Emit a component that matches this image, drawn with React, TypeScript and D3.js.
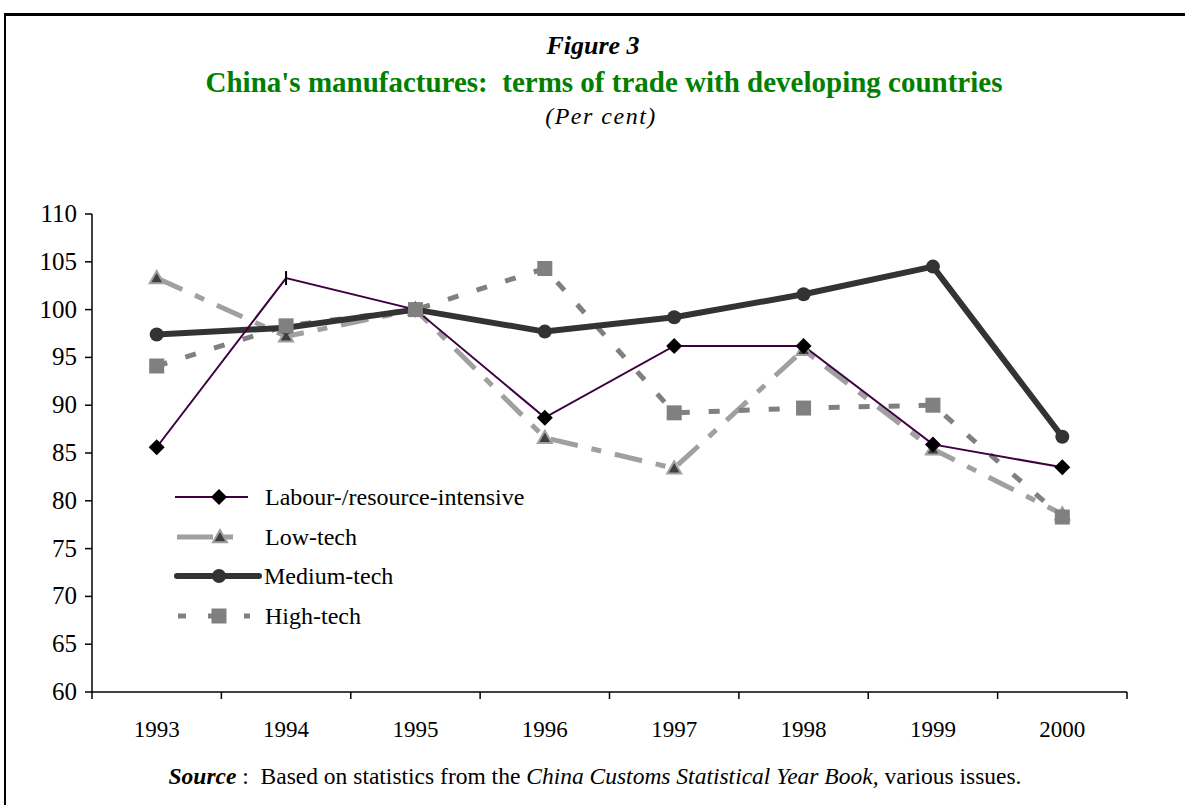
import React from "react";
import * as d3 from "d3";

const years = ["1993", "1994", "1995", "1996", "1997", "1998", "1999", "2000"];
const labour = [85.6, 103.3, 100.0, 88.7, 96.2, 96.2, 85.9, 83.5];
const lowTech = [103.3, 97.2, 100.0, 86.6, 83.4, 95.8, 85.4, 78.6];
const mediumTech = [97.4, 98.1, 100.0, 97.7, 99.2, 101.6, 104.5, 86.7];
const highTech = [94.1, 98.3, 100.0, 104.3, 89.2, 89.7, 90.0, 78.3];
const yTicks = [60, 65, 70, 75, 80, 85, 90, 95, 100, 105, 110];
const legendLabels = ["Labour-/resource-intensive", "Low-tech", "Medium-tech", "High-tech"];

const W = 1185;
const H = 805;
const font = "'Liberation Serif', 'Times New Roman', serif";

export default function App() {
  const x = d3.scaleBand<string>().domain(years).range([92, 1127]);
  const y = d3.scaleLinear().domain([60, 110]).range([692, 214]);
  const cx = (i: number) => (x(years[i]) as number) + x.bandwidth() / 2;
  const line = d3
    .line<number>()
    .x((_, i) => cx(i))
    .y((d) => y(d));

  const diamond = (px: number, py: number, s: number) =>
    `M${px},${py - s}L${px + s},${py}L${px},${py + s}L${px - s},${py}Z`;
  const tri = (px: number, py: number, s: number) =>
    `M${px},${py - s}L${px + s},${py + s * 0.75}L${px - s},${py + s * 0.75}Z`;

  const boundaries = [...years.map((yr) => x(yr) as number), 1127];

  const legY = [497, 537, 576, 616];
  const pre = { whiteSpace: "pre" as const };

  return (
    <svg
      width={W}
      height={H}
      style={{ position: "fixed", left: 0, top: 0, background: "#fff" }}
      fontFamily={font}
    >
      <rect x={0} y={0} width={W} height={H} fill="#fff" />
      {/* frame */}
      <line x1={4} x2={W} y1={14.5} y2={14.5} stroke="#000" strokeWidth={3} />
      <line x1={5} x2={5} y1={13} y2={H} stroke="#000" strokeWidth={2} />

      {/* titles */}
      <text x={593} y={54} textAnchor="middle" fontSize={26} fontStyle="italic" fontWeight="bold">
        Figure 3
      </text>
      <text x={604} y={92} textAnchor="middle" fontSize={29} fontWeight="bold" fill="#008000" style={pre}>
        {"China's manufactures:  terms of trade with developing countries"}
      </text>
      <text x={601} y={124} textAnchor="middle" fontSize={24} fontStyle="italic" letterSpacing={1.5}>
        (Per cent)
      </text>

      {/* axes */}
      <line x1={92} x2={92} y1={214} y2={692} stroke="#000" strokeWidth={1.5} />
      <line x1={92} x2={1127} y1={692} y2={692} stroke="#000" strokeWidth={1.5} />
      {yTicks.map((t) => (
        <g key={t}>
          <line x1={85} x2={92} y1={y(t)} y2={y(t)} stroke="#000" strokeWidth={1.5} />
          <text x={77} y={y(t) + 8} textAnchor="end" fontSize={25}>
            {t}
          </text>
        </g>
      ))}
      {boundaries.map((b, i) => (
        <line key={i} x1={b} x2={b} y1={692} y2={699} stroke="#000" strokeWidth={1.5} />
      ))}
      {years.map((yr, i) => (
        <text key={yr} x={cx(i)} y={737} textAnchor="middle" fontSize={23}>
          {yr}
        </text>
      ))}

      {/* Low-tech */}
      <path d={line(lowTech) as string} fill="none" stroke="#a0a0a0" strokeWidth={5} strokeDasharray="28,14,10,14" />
      {/* High-tech */}
      <path d={line(highTech) as string} fill="none" stroke="#808080" strokeWidth={5} strokeDasharray="11,19" />
      {/* Medium-tech */}
      <path d={line(mediumTech) as string} fill="none" stroke="#333333" strokeWidth={6} strokeLinejoin="round" />
      {/* Labour */}
      <path d={line(labour) as string} fill="none" stroke="#3f0040" strokeWidth={2} />

      {/* markers */}
      {lowTech.map((v, i) => (
        <path key={"lt" + i} d={tri(cx(i), y(v), 7)} fill="#404040" stroke="#a0a0a0" strokeWidth={2} />
      ))}
      {mediumTech.map((v, i) => (
        <circle key={"mt" + i} cx={cx(i)} cy={y(v)} r={7} fill="#333333" />
      ))}
      {labour.map((v, i) =>
        i === 1 ? (
          <line key={"lb" + i} x1={cx(i)} x2={cx(i)} y1={y(v) - 7} y2={y(v) + 7} stroke="#000" strokeWidth={2} />
        ) : (
          <path key={"lb" + i} d={diamond(cx(i), y(v), 8)} fill="#000" />
        )
      )}
      {highTech.map((v, i) => (
        <rect key={"ht" + i} x={cx(i) - 7.5} y={y(v) - 7.5} width={15} height={15} fill="#808080" />
      ))}

      {/* legend */}
      <g>
        <line x1={175} x2={248} y1={legY[0]} y2={legY[0]} stroke="#3f0040" strokeWidth={2} />
        <path d={diamond(219, legY[0], 8)} fill="#000" />
        <text x={265} y={legY[0] + 8} fontSize={24}>{legendLabels[0]}</text>

        <line x1={177} x2={243} y1={legY[1]} y2={legY[1]} stroke="#a0a0a0" strokeWidth={5} strokeDasharray="36,10,10,10" />
        <path d={tri(220, legY[1], 7)} fill="#404040" stroke="#a0a0a0" strokeWidth={2} />
        <text x={265} y={legY[1] + 8} fontSize={24}>{legendLabels[1]}</text>

        <line x1={177} x2={259} y1={legY[2]} y2={legY[2]} stroke="#333333" strokeWidth={6} strokeLinecap="round" />
        <circle cx={219} cy={legY[2]} r={7} fill="#333333" />
        <text x={264} y={legY[2] + 8} fontSize={24}>{legendLabels[2]}</text>

        <line x1={178} x2={250} y1={legY[3]} y2={legY[3]} stroke="#808080" strokeWidth={5} strokeDasharray="8,22,14,22,8" />
        <rect x={211.5} y={legY[3] - 7.5} width={15} height={15} fill="#808080" />
        <text x={265} y={legY[3] + 8} fontSize={24}>{legendLabels[3]}</text>
      </g>

      {/* source */}
      <text x={595} y={784} textAnchor="middle" fontSize={23.5} style={pre}>
        <tspan fontWeight="bold" fontStyle="italic">Source</tspan>
        <tspan>{" :  Based on statistics from the "}</tspan>
        <tspan fontStyle="italic">China Customs Statistical Year Book,</tspan>
        <tspan>{" various issues."}</tspan>
      </text>
    </svg>
  );
}
